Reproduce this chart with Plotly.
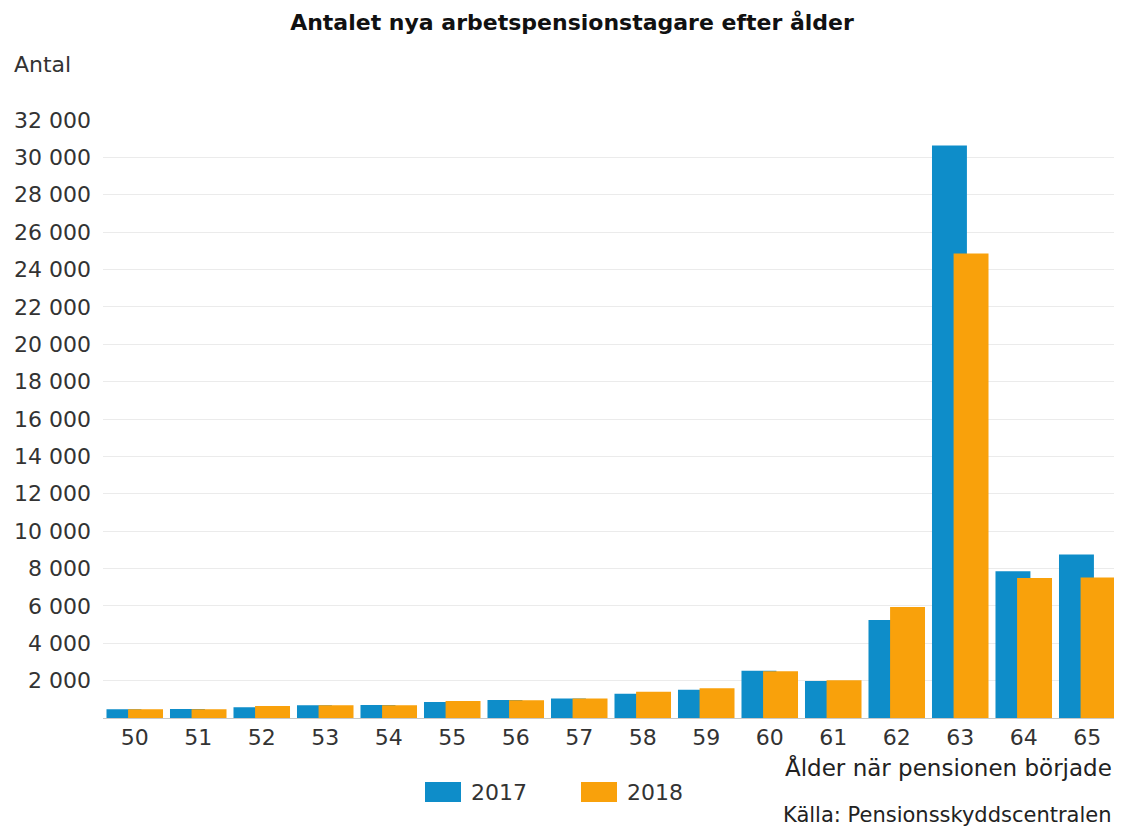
import plotly.graph_objects as go

ages = ["50", "51", "52", "53", "54", "55", "56", "57", "58", "59", "60", "61", "62", "63", "64", "65"]
values_2017 = [470, 485, 580, 685, 700, 860, 965, 1050, 1300, 1510, 2530, 1980, 5240, 30640, 7850, 8750]
values_2018 = [470, 470, 645, 685, 685, 915, 950, 1040, 1405, 1590, 2500, 2015, 5935, 24860, 7490, 7525]
series_names = ["2017", "2018"]
y_tick_values = [2000, 4000, 6000, 8000, 10000, 12000, 14000, 16000, 18000, 20000,
                 22000, 24000, 26000, 28000, 30000, 32000]

title_text = "Antalet nya arbetspensionstagare efter ålder"
y_title = "Antal"
x_title = "Ålder när pensionen började"
source_text = "Källa: Pensionsskyddscentralen"

BLUE = "#0e8dc9"
ORANGE = "#f9a10b"
FONT = "DejaVu Sans"
TXT = "#333333"

# page has an 8px body margin; work in figure pixel coordinates
W, H = 1114, 818
ml, mr, mt, mb = 95, 3, 112, 108
PW, PH = W - ml - mr, H - mt - mb


def px(fx):
    return (fx - ml) / PW


def py(fy):
    return (H - mb - fy) / PH


fig = go.Figure()
fig.add_trace(go.Bar(x=ages, y=values_2017, name=series_names[0], marker_color=BLUE,
                     marker_line_width=0, width=0.55, offset=-0.445, showlegend=False))
fig.add_trace(go.Bar(x=ages, y=values_2018, name=series_names[1], marker_color=ORANGE,
                     marker_line_width=0, width=0.55, offset=-0.105, showlegend=False))

# legend swatches and labels
legend_items = [(series_names[0], BLUE, 417), (series_names[1], ORANGE, 573)]
shapes = []
annotations = []
for name, col, x0 in legend_items:
    shapes.append(dict(type="rect", xref="paper", yref="paper",
                       x0=px(x0), x1=px(x0 + 36), y0=py(794), y1=py(774),
                       fillcolor=col, line=dict(width=0)))
    annotations.append(dict(text=name, xref="paper", yref="paper", x=px(x0 + 44), xanchor="left",
                            y=py(784), yanchor="middle", showarrow=False,
                            font=dict(size=22, color=TXT)))

annotations += [
    dict(text=y_title, xref="paper", yref="paper", x=px(4), xanchor="left",
         y=py(57), yanchor="middle", showarrow=False, font=dict(size=22, color=TXT)),
    dict(text=x_title, xref="paper", yref="paper", x=px(1106), xanchor="right",
         y=py(759), yanchor="middle", showarrow=False, font=dict(size=23, color="#222222")),
    dict(text=source_text, xref="paper", yref="paper", x=px(1106), xanchor="right",
         y=py(807), yanchor="middle", showarrow=False, font=dict(size=21, color="#222222")),
]

fig.update_layout(
    width=W, height=H,
    margin=dict(l=ml, r=mr, t=mt, b=mb, pad=0),
    paper_bgcolor="white", plot_bgcolor="white",
    barmode="overlay",
    separators=", ",
    font=dict(family=FONT, size=22, color=TXT),
    title=dict(text="<b>" + title_text + "</b>", x=px(564), xanchor="center",
               xref="paper", y=1 - 14 / H, yanchor="middle",
               font=dict(family=FONT, size=22, color="#111111")),
    showlegend=False,
    xaxis=dict(type="category", range=[-0.5, 15.5], showgrid=False,
               showline=True, linecolor="#c8c8c8", linewidth=1,
               ticks="", tickfont=dict(size=22, color=TXT), ticklabelstandoff=0),
    yaxis=dict(range=[0, 32000], tickvals=y_tick_values, tickformat=",d",
               showgrid=True, gridcolor="#ebebeb", gridwidth=1, zeroline=False,
               showline=False, ticks="", tickfont=dict(size=22, color=TXT),
               ticklabelstandoff=11),
    shapes=shapes,
    annotations=annotations,
)

fig.write_html("out.html")
